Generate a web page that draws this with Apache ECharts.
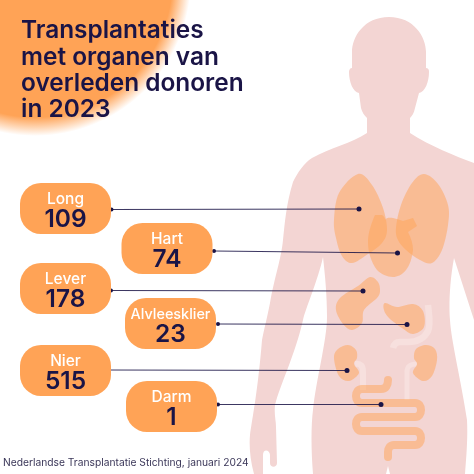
<!DOCTYPE html>
<html><head><meta charset="utf-8">
<style>html,body{margin:0;padding:0;background:#fff}#c{width:474px;height:474px}</style>
<script src="https://cdn.jsdelivr.net/npm/echarts@6/dist/echarts.min.js"></script>
</head><body><div id="c"></div>
<script>
var titleText = "Transplantaties\nmet organen van\noverleden donoren\nin 2023";
var sourceText = "Nederlandse Transplantatie Stichting, januari 2024";
var categories = ["Long","Hart","Lever","Alvleesklier","Nier","Darm"];
var values = [109,74,178,23,515,1];

// layout (page pixels): pill box and leader line per category
var pillLeft = [20,121.5,20,125,20,126];
var pillTop = [183,223,263,298,345,381];
var leaderStart = [[111.5,209.5],[214,251],[111,290.5],[218,324],[108,370],[218,404.5]];
var leaderEnd = [[359,209],[397.5,253],[363,291],[407,324.5],[347,370.5],[381,404.5]];
var PILL_W = 91, PILL_H = 51;

var NAVY = "#1a1446", ORANGE = "#ffa356", BODY = "#f3d5d3", PALE = "#f7e0de";

function smooth(p){
  var n=p.length, d="M"+p[0][0]+" "+p[0][1];
  for(var i=0;i<n;i++){
    var a=p[(i-1+n)%n],b=p[i],c=p[(i+1)%n],e=p[(i+2)%n];
    d+="C"+(b[0]+(c[0]-a[0])/6)+" "+(b[1]+(c[1]-a[1])/6)+" "+(c[0]-(e[0]-b[0])/6)+" "+(c[1]-(e[1]-b[1])/6)+" "+c[0]+" "+c[1];
  }
  return d+"Z";
}
var organs = [
 [[358,174],[372,185],[383,208],[387,230],[382,243],[368,254],[352,263],[342,256],[336,238],[334,220],[339,193]],
 [[424,174],[438,184],[448,205],[448,225],[442,250],[432,263],[420,260],[406,250],[398,240],[396,228],[401,205],[412,183]],
 [[370,277],[378,282],[380,291],[377,298],[364,310],[362,323],[352,330],[343,324],[336,310],[340,298],[358,286]],
 [[385,303],[397,307],[413,304],[423,311],[424,327],[413,334],[402,328],[389,318],[384,310]],
 [[348,345],[356,350],[357,358],[354,364],[359,373],[349,381],[339,376],[334,358],[338,349]],
 [[426,345],[435,349],[437,360],[432,376],[423,381],[413,373],[417,364],[414,358],[416,349]]
];
var heart = "M375 215L382 215C384 216 385 218 385 220C387 217 390 218 393 218C397 219 400 220 403 221L413 218L417 226L408 232C411 238 413 244 413 250C412 258 410 265 406 270C402 275 397 277 393 277C387 277 381 274 377 270C371 262 368 252 368 242C368 232 372 222 375 215Z";
var gut = "M388 380C388 385 386 389 381 389L362 389C358 389 356 392 356 396C356 400 358 403 362 403L415 403C419 403 421 406 421 410C421 414 419 417 415 417L362 417C358 417 356 420 356 424C356 428 358 431 362 431L415 431C419 431 421 434 421 438C421 442 419 445 415 445L394 445C390 445 388 448 388 452L388 457";
var bodyPath = "M389 17C414 17 426 37 426 52L426 68C428 68 429 69 429 72C429 82 425 92 419 93L415 108C414 113 412 116 410 118L410 133C430 146 455 156 474 163L480 166L480 335L474 320L454 258C449 285 449 310 450 320C451 340 462 385 467 420C468 440 466 460 465 474L390 474L388 466L386 474L313 474C311 450 311 425 313 410C316 380 327 340 327 317C327 295 325 275 323 257C318 280 305 310 303 320C295 355 280 385 275 405C274 415 276 420 276 427L277 463C277 468 270 468 270 463L270 455C270 450 263 448 263 455L263 474L254 474C250 460 249 445 250 435C252 420 258 390 262 340C264 330 267 318 270 303C275 275 281 260 283 240C285 222 286 205 293 182C298 172 304 163 312 158C330 148 352 143 367 133L367 118C364 115 362 112 361 108L359 93C353 92 349 82 349 72C349 70 350 68 352 68L352 52C352 37 364 17 389 17Z";

var shapes = [
 {d:bodyPath,style:{fill:BODY}},
 {d:"M428 305C429 315 431 325 428 331C424 339 417 342 408 342L400 342C396 342 394 344 393 348",style:{fill:"none",stroke:PALE,lineWidth:6.5}},
 {d:"M355 364C361 363 363 366 363 372L363 390",style:{fill:"none",stroke:PALE,lineWidth:6}},
 {d:"M417 364C410 364 407 366 407 372L407 400",style:{fill:"none",stroke:PALE,lineWidth:5}}
];
organs.forEach(function(o){shapes.push({d:smooth(o),style:{fill:ORANGE,opacity:.5}});});
shapes.push({d:heart,style:{fill:ORANGE,opacity:.5}});
shapes.push({d:gut,style:{fill:"none",stroke:ORANGE,lineWidth:8,lineCap:"round",lineJoin:"round",opacity:.5}});

var chart = echarts.init(document.getElementById("c"),null,{renderer:"canvas"});
chart.setOption({
 animation:false,
 backgroundColor:"#fff",
 graphic:{elements:[
  {type:"circle",z:0,shape:{cx:35,cy:-20,r:156},style:{fill:{type:"radial",x:.5,y:.5,r:.5,colorStops:[{offset:0,color:"rgba(255,163,86,1)"},{offset:.88,color:"rgba(255,163,86,1)"},{offset:1,color:"rgba(255,163,86,0)"}]}}}
 ]},
 grid:{left:0,top:0,width:474,height:474},
 xAxis:{type:"value",min:0,max:474,show:false},
 yAxis:{type:"value",min:0,max:474,inverse:true,show:false},
 title:[
  {text:titleText,left:21,top:18,padding:0,z:20,textStyle:{fontFamily:"Inter",fontWeight:600,fontSize:24.4,lineHeight:26.3,color:NAVY}},
  {text:sourceText,left:3,top:458,padding:0,z:20,textStyle:{fontFamily:"Inter",fontWeight:400,fontSize:10.25,color:"#3a3658"}}
 ],
 series:[{
  type:"custom",z:2,coordinateSystem:"none",silent:true,
  data:shapes.map(function(s,i){return i;}),
  renderItem:function(params){
   var s=shapes[params.dataIndex];
   return {type:"path",shape:{pathData:s.d},style:s.style};
  }
 },{
  type:"custom",z:10,coordinateSystem:"cartesian2d",silent:true,clip:false,
  encode:{x:0,y:1},
  data:categories.map(function(c,i){return [pillLeft[i],pillTop[i],i];}),
  renderItem:function(params,api){
   var i=api.value(2), tl=api.coord([api.value(0),api.value(1)]);
   var s=api.coord(leaderStart[i]), e=api.coord(leaderEnd[i]);
   var cx=tl[0]+PILL_W/2;
   var labelSize=categories[i].length>6?14.4:15.5;
   return {type:"group",children:[
    {type:"line",shape:{x1:s[0],y1:s[1],x2:e[0],y2:e[1]},style:{stroke:NAVY,lineWidth:1.2,opacity:.85}},
    {type:"circle",shape:{cx:s[0],cy:s[1],r:2},style:{fill:NAVY}},
    {type:"circle",shape:{cx:e[0],cy:e[1],r:2.5},style:{fill:NAVY}},
    {type:"rect",shape:{x:tl[0],y:tl[1],width:PILL_W,height:PILL_H,r:21},style:{fill:ORANGE}},
    {type:"text",style:{text:categories[i],x:cx,y:tl[1]+16.5,align:"center",verticalAlign:"middle",fill:"#fff",fontFamily:"Inter",fontWeight:500,fontSize:labelSize}},
    {type:"text",style:{text:String(values[i]),x:cx,y:tl[1]+37,align:"center",verticalAlign:"middle",fill:NAVY,fontFamily:"Inter",fontWeight:600,fontSize:24.5}}
   ]};
  }
 }]
});
</script></body></html>
